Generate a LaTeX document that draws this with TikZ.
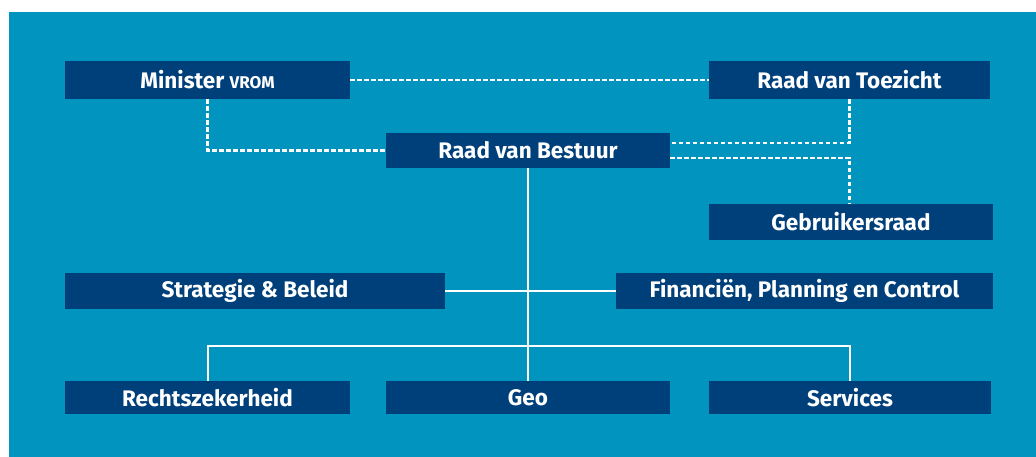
\documentclass[tikz,border=0pt]{standalone}
\usepackage{fontspec}
\setmainfont{Fira Sans}
\definecolor{bgblue}{RGB}{0,148,190}
\definecolor{boxblue}{RGB}{0,64,122}
\begin{document}
\begin{tikzpicture}[x=1pt,y=-1pt,
  orgbox/.style={fill=boxblue,draw=none,text=white,inner sep=0pt,
    font=\fontsize{22.5}{25}\selectfont\bfseries,anchor=center},
  dline/.style={draw=white,line width=2.2pt,dash pattern=on 4.5pt off 2.5pt},
  sline/.style={draw=white,line width=2pt}]
\useasboundingbox (0,0) rectangle (1036,457);
\fill[white] (0,0) rectangle (1036,457);
\fill[bgblue] (9,12) rectangle (1036,457);
\node[orgbox,minimum width=285pt,minimum height=38pt] (min) at (207.5,80) {Minister {\fontsize{17}{20}\selectfont VROM}};
\node[orgbox,minimum width=281pt,minimum height=38pt] (rvt) at (849.5,80) {Raad van Toezicht};
\node[orgbox,minimum width=284pt,minimum height=35pt] (rvb) at (528,150.5) {Raad van Bestuur};
\node[orgbox,minimum width=284pt,minimum height=36pt] (geb) at (851,222) {Gebruikersraad};
\node[orgbox,minimum width=380pt,minimum height=36pt] (sb) at (255,291) {Strategie \& Beleid};
\node[orgbox,minimum width=377pt,minimum height=36pt] (fin) at (804.5,291) {Financiën, Planning en Control};
\node[orgbox,minimum width=285pt,minimum height=33pt] (rz) at (207.5,397.5) {Rechtszekerheid};
\node[orgbox,minimum width=284pt,minimum height=33pt] (geo) at (528,397.5) {Geo};
\node[orgbox,minimum width=282pt,minimum height=33pt] (srv) at (850,397.5) {Services};
\coordinate (bus) at (528,346);
\draw[dline] (min.east) -- (rvt.west);
\draw[dline] (min.south) |- (rvb.west);
\draw[dline] (rvt.south) |- ([yshift=7.5pt]rvb.east);
\draw[dline] ([yshift=-7.5pt]rvb.east) -| (rvt.south |- geb.north);
\draw[sline] (rvb.south) -- (geo.north);
\draw[sline] (sb.east) -- (fin.west);
\draw[sline] (rz.north) |- (bus) -| (srv.north);
\end{tikzpicture}
\end{document}
